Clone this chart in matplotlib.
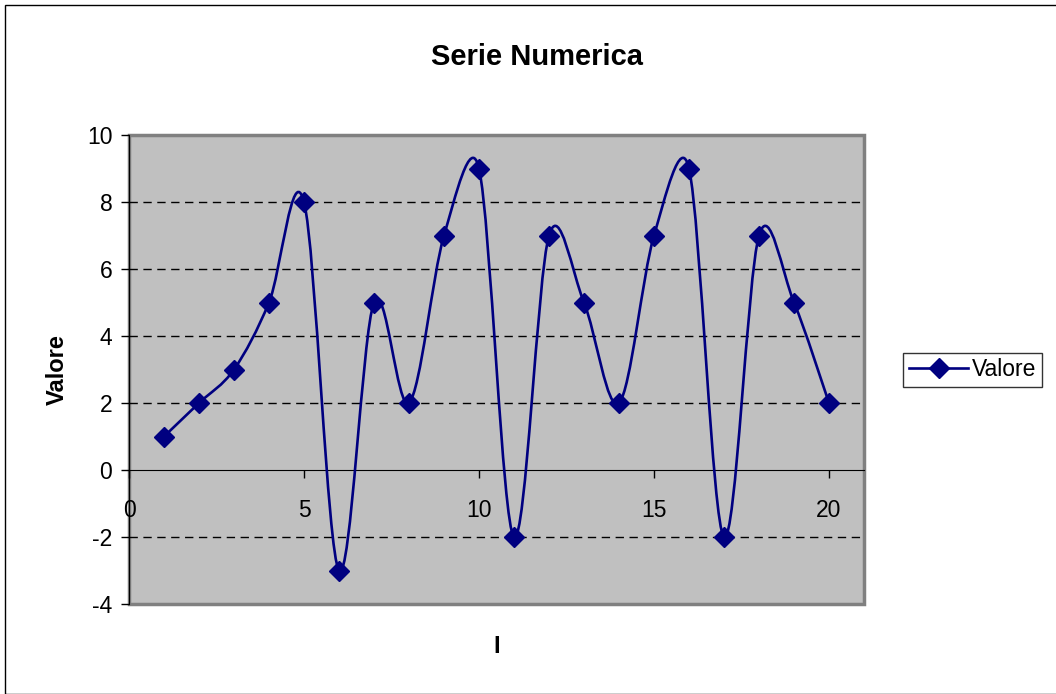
import numpy as np
import matplotlib.pyplot as plt
from matplotlib.path import Path
from matplotlib.patches import PathPatch, Rectangle
from matplotlib.lines import Line2D

plt.rcParams['font.family'] = ['Liberation Sans', 'DejaVu Sans']
plt.rcParams['axes.unicode_minus'] = False

x = list(range(1, 21))
valore = [1, 2, 3, 5, 8, -3, 5, 2, 7, 9, -2, 7, 5, 2, 7, 9, -2, 7, 5, 2]
yticks = [-4, -2, 0, 2, 4, 6, 8, 10]
xticks = [0, 5, 10, 15, 20]

navy = '#000080'

fig = plt.figure(figsize=(10.56, 6.94), dpi=100)
ax = fig.add_axes([129 / 1056, 90 / 694, 735 / 1056, 469 / 694])
ax.set_facecolor('#C0C0C0')
ax.set_xlim(0, 21)
ax.set_ylim(-4, 10)

# Excel-like smoothed line (Bezier, arms limited to half the chord, screen space)
pts = ax.transData.transform(np.column_stack([x, valore]).astype(float))
n = len(pts)
verts = [pts[0]]
codes = [Path.MOVETO]
for i in range(n - 1):
    p0 = pts[i - 1] if i > 0 else pts[i]
    p1 = pts[i]
    p2 = pts[i + 1]
    p3 = pts[i + 2] if i + 2 < n else pts[i + 1]
    half = np.hypot(*(p2 - p1)) / 2
    a1 = (p2 - p0) / 6
    a2 = (p3 - p1) / 6
    if np.hypot(*a1) > half:
        a1 = a1 * half / np.hypot(*a1)
    if np.hypot(*a2) > half:
        a2 = a2 * half / np.hypot(*a2)
    verts += [p1 + a1, p2 - a2, p2]
    codes += [Path.CURVE4] * 3
verts = ax.transData.inverted().transform(np.array(verts))
ax.add_patch(PathPatch(Path(verts, codes), fill=False, edgecolor=navy, lw=1.9, zorder=3))
ax.plot(x, valore, linestyle='none', marker='D', ms=10, color=navy, zorder=4)

ax.set_yticks(yticks)
ax.set_xticks(xticks)
ax.tick_params(axis='y', direction='out', length=6, width=1, labelsize=16.5, pad=6)
ax.tick_params(axis='x', direction='out', length=6, width=1, labelsize=16.5, pad=15)

for g in [-2, 2, 4, 6, 8]:
    ax.axhline(g, color='black', lw=1, linestyle=(0, (6, 4)), zorder=2)

for s in ['top', 'right']:
    ax.spines[s].set_visible(False)
ax.spines['bottom'].set_position(('data', 0))
ax.spines['bottom'].set_color('black')
ax.spines['left'].set_color('black')
ax.add_patch(Rectangle((0, 0), 1, 1, transform=ax.transAxes, fill=False,
                       edgecolor='#808080', lw=2.5, zorder=1, clip_on=False))

fig.text(537 / 1056, 1 - 65 / 694, 'Serie Numerica', ha='center', va='baseline',
         fontsize=21, fontweight='bold')
fig.text(57 / 1056, 1 - 370 / 694, 'Valore', ha='center', va='center',
         rotation=90, fontsize=17, fontweight='bold')
fig.text(497 / 1056, 1 - 653 / 694, 'I', ha='center', va='baseline',
         fontsize=17, fontweight='bold')

handle = Line2D([], [], color=navy, lw=1.9, marker='D', ms=10)
leg = fig.legend([handle], ['Valore'], loc='center left',
                 bbox_to_anchor=(903 / 1056, 1 - 370 / 694), fontsize=16.5,
                 frameon=True, fancybox=False, edgecolor='black',
                 handlelength=2.6, handletextpad=0.15, borderpad=0.25,
                 borderaxespad=0)
leg.get_frame().set_linewidth(1)

fig.add_artist(Rectangle((5 / 1056, 0), 1, 1 - 5 / 694, transform=fig.transFigure,
                         fill=False, edgecolor='black', lw=1))

fig.savefig('out.png', dpi=100)
